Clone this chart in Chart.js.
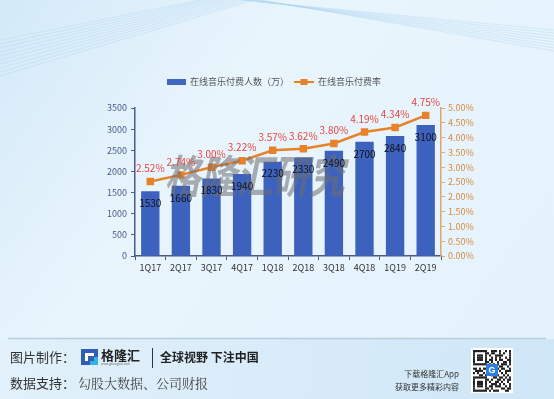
<!DOCTYPE html>
<html><head><meta charset="utf-8">
<script src="https://cdn.jsdelivr.net/npm/chart.js@4/dist/chart.umd.min.js"></script>
<style>html,body{margin:0;padding:0;background:#e8f4fc;}canvas{display:block;}</style>
</head><body>
<canvas id="c" width="554" height="399"></canvas>
<script>
const categories = ['1Q17','2Q17','3Q17','4Q17','1Q18','2Q18','3Q18','4Q18','1Q19','2Q19'];
const payingUsers = [1530,1660,1830,1940,2230,2330,2490,2700,2840,3100];
const payRate = [2.52,2.74,3.00,3.22,3.57,3.62,3.80,4.19,4.34,4.75];
const leftTicks = [0,500,1000,1500,2000,2500,3000,3500];
const barLabel = '在线音乐付费人数（万）';
const lineLabel = '在线音乐付费率';

const FONT = '"Microsoft YaHei","Noto Sans CJK SC","Noto Sans",sans-serif';

const bgPlugin = {
  id:'bg',
  beforeDraw(chart){
    const ctx = chart.ctx, W = chart.width, H = chart.height;
    ctx.save();
    let g = ctx.createLinearGradient(0,0,W,H);
    g.addColorStop(0,'#d3e9f8'); g.addColorStop(0.35,'#e9f5fd'); g.addColorStop(1,'#e4f2fc');
    ctx.fillStyle = g; ctx.fillRect(0,0,W,H);
    ctx.strokeStyle = 'rgba(175,212,240,0.4)'; ctx.lineWidth = 1;
    for (let i=0;i<10;i++){ ctx.beginPath(); ctx.moveTo(0,40+i*4); ctx.lineTo(200+i*6,0); ctx.stroke(); }
    for (let i=0;i<8;i++){ ctx.beginPath(); ctx.moveTo(240+i*3,0); ctx.lineTo(554,30+i*3); ctx.stroke(); }
    let g2 = ctx.createLinearGradient(0,338,W,H);
    g2.addColorStop(0,'#e2f1fb'); g2.addColorStop(1,'#cfe6f7');
    ctx.fillStyle = g2; ctx.fillRect(0,339,W,H-339);
    ctx.strokeStyle = '#b7cde0'; ctx.lineWidth = 1.5;
    ctx.beginPath(); ctx.moveTo(8,338.5); ctx.lineTo(546,338.5); ctx.stroke();
    ctx.restore();
  }
};

const labelPlugin = {
  id:'labels',
  afterDatasetsDraw(chart){
    const ctx = chart.ctx;
    ctx.save();
    ctx.save();
    ctx.translate(258,176);
    ctx.transform(1,0,-0.25,1.25,0,0);
    ctx.fillStyle = 'rgba(110,110,115,0.55)';
    ctx.font = 'bold 36px ' + FONT;
    ctx.textAlign = 'center'; ctx.textBaseline = 'middle';
    ctx.fillText('格隆汇研究',0,0);
    ctx.restore();
    const mb = chart.getDatasetMeta(0);
    ctx.font = '10px ' + FONT;
    ctx.fillStyle = '#111'; ctx.textAlign='center'; ctx.textBaseline='middle';
    mb.data.forEach((el,i)=>{ ctx.fillText(String(payingUsers[i]), el.x, el.y+12); });
    const ml = chart.getDatasetMeta(1);
    ctx.fillStyle = '#e8453c';
    ml.data.forEach((el,i)=>{ ctx.fillText(payRate[i].toFixed(2)+'%', el.x, el.y-13); });
    ctx.restore();
  },
  afterDraw(chart){
    const ctx = chart.ctx;
    ctx.save();
    ctx.textBaseline='middle';
    ctx.fillStyle = '#3f66c2'; ctx.fillRect(167,79,19,6);
    ctx.font = '9px ' + FONT; ctx.fillStyle = '#555'; ctx.textAlign='left';
    ctx.fillText(barLabel,190,82);
    ctx.strokeStyle = '#e8822a'; ctx.lineWidth = 2;
    ctx.beginPath(); ctx.moveTo(294,82); ctx.lineTo(314,82); ctx.stroke();
    ctx.fillStyle = '#e8822a'; ctx.fillRect(300.5,79,7,6);
    ctx.fillStyle = '#555'; ctx.fillText(lineLabel,318,82);
    ctx.fillStyle = '#333'; ctx.font = '13px ' + FONT;
    ctx.fillText('图片制作：',10,357);
    ctx.fillText('数据支持：',10,383);
    ctx.font = '13px "Noto Serif CJK SC","Noto Sans CJK SC",serif';
    ctx.fillStyle='#444';
    ctx.fillText('勾股大数据、公司财报',78,383);
    ctx.fillStyle = '#2f5fb8'; ctx.fillRect(81,349,17,16);
    ctx.fillStyle = '#35b0e8'; ctx.fillRect(90,357,8,8);
    ctx.fillStyle = '#fff'; ctx.fillRect(85,353,9,8);
    ctx.fillStyle = '#2f5fb8'; ctx.fillRect(88,356,6,5);
    ctx.fillStyle = '#222'; ctx.font = 'bold 13px ' + FONT;
    ctx.fillText('格隆汇',101,355);
    ctx.font = '3px ' + FONT; ctx.fillStyle='#666';
    ctx.fillText('www.gelonghui.com',101,364);
    ctx.strokeStyle = '#333'; ctx.lineWidth = 1;
    ctx.beginPath(); ctx.moveTo(152.5,348); ctx.lineTo(152.5,368); ctx.stroke();
    ctx.fillStyle = '#222'; ctx.font = 'bold 12px ' + FONT;
    ctx.fillText('全球视野 下注中国',160,357);
    ctx.font = '8px ' + FONT; ctx.fillStyle='#333'; ctx.textAlign='right';
    ctx.fillText('下载格隆汇App',459,374);
    ctx.fillText('获取更多精彩内容',459,387);
    ctx.fillStyle='#fff'; ctx.fillRect(471,348,42,45);
    ctx.fillStyle='#222';
    const pat = [0x7f3a5,0x41b29,0x5d4f1,0x5d2a5,0x5d6b3,0x41a4d,0x7f55d,0x00e32,0x6b4d9,0x3c6a7,0x52b94,0x0d3ca,0x7f1b5,0x41a6b,0x5d4d2,0x5d3a9,0x5d6e5,0x41a1b,0x7f5c6];
    for(let r=0;r<19;r++) for(let c=0;c<19;c++) if((pat[r]>>(18-c))&1) ctx.fillRect(473+c*2,350+r*2.2,2,2.2);
    ctx.fillStyle='#2f7fe0'; ctx.fillRect(486,364,12,12);
    ctx.fillStyle='#fff'; ctx.font='bold 9px sans-serif'; ctx.textAlign='center'; ctx.fillText('G',492,370.5);
    ctx.restore();
  }
};

new Chart(document.getElementById('c'),{
  data:{
    labels:categories,
    datasets:[
      {type:'bar',label:barLabel,data:payingUsers,yAxisID:'y',backgroundColor:'#3d62bd',borderWidth:0,categoryPercentage:0.6,barPercentage:1,order:2},
      {type:'line',label:lineLabel,data:payRate,yAxisID:'y1',borderColor:'#e8822a',backgroundColor:'#e8822a',borderWidth:2.5,pointStyle:'rect',pointRadius:3.5,pointHoverRadius:3.5,tension:0,order:1}
    ]
  },
  options:{
    responsive:false,animation:false,
    layout:{padding:{left:0,right:0,top:108,bottom:123}},
    plugins:{legend:{display:false},tooltip:{enabled:false}},
    scales:{
      x:{
        grid:{display:true,drawOnChartArea:false,drawTicks:true,tickLength:4,color:'#4a5a8a',offset:true},
        border:{display:true,color:'#4a5a8a',width:1.5},
        ticks:{color:'#333',font:{size:9,family:FONT},padding:2,maxRotation:0},
        afterFit(s){s.height=20;}
      },
      y:{
        position:'left',min:0,max:3500,
        afterBuildTicks(s){s.ticks=leftTicks.map(v=>({value:v}));},
        grid:{drawOnChartArea:false,tickLength:4,color:'#4a5a8a'},
        border:{display:true,color:'#4a5a8a',width:1.5},
        ticks:{color:'#4a5a8a',font:{size:9,family:FONT},padding:4,callback:v=>String(v)},
        afterFit(s){s.width=135;}
      },
      y1:{
        position:'right',min:0,max:5,
        grid:{drawOnChartArea:false,tickLength:4,color:'#e0a868'},
        border:{display:true,color:'#e0a868',width:1.5},
        ticks:{stepSize:0.5,color:'#d9883a',font:{size:9,family:FONT},padding:3,callback:v=>v.toFixed(2)+'%'},
        afterFit(s){s.width=113;}
      }
    }
  },
  plugins:[bgPlugin,labelPlugin]
});
</script>
</body></html>
